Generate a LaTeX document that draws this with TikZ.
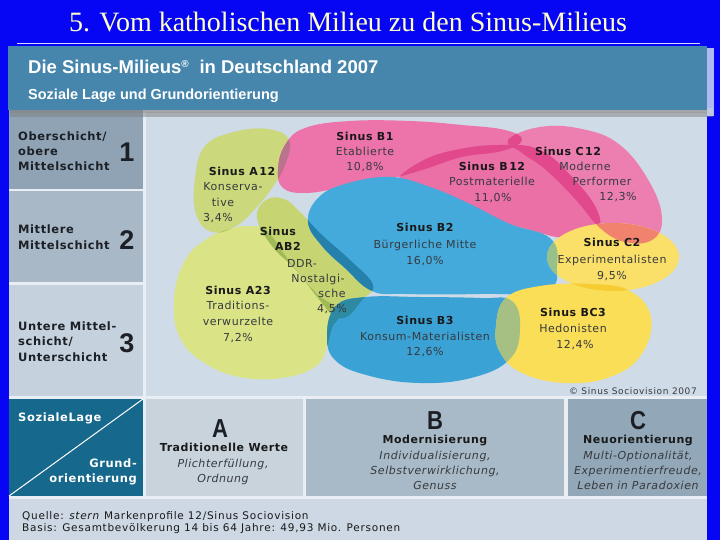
\documentclass[tikz,border=0pt]{standalone}
\usepackage{fontspec}
\setmainfont{DejaVu Sans}
\newfontfamily\chfont{DejaVu Sans}[LetterSpace=5,ItalicFont=DejaVu Sans Oblique,BoldFont=DejaVu Sans Bold,BoldItalicFont=DejaVu Sans Bold Oblique]
\newfontfamily\sidefont{DejaVu Sans}[LetterSpace=5,BoldFont=DejaVu Sans Bold]
\newfontfamily\footfont{DejaVu Sans}[LetterSpace=7,ItalicFont=DejaVu Sans Oblique]
\newfontfamily\titlefont{Liberation Serif}
\newfontfamily\headfont{Liberation Sans}
\definecolor{bgblue}{RGB}{6,6,245}
\definecolor{titleyel}{RGB}{255,255,200}
\definecolor{headblue}{RGB}{70,134,172}
\definecolor{panelwhite}{RGB}{232,238,243}
\definecolor{chartbg}{RGB}{207,219,230}
\definecolor{cellone}{RGB}{143,163,180}
\definecolor{celltwo}{RGB}{168,184,198}
\definecolor{cellthree}{RGB}{197,209,220}
\definecolor{tealcell}{RGB}{22,104,140}
\definecolor{cellA}{RGB}{200,211,220}
\definecolor{cellB}{RGB}{168,186,199}
\definecolor{cellC}{RGB}{146,167,183}
\definecolor{footbg}{RGB}{205,216,228}
\definecolor{pinkone}{RGB}{236,116,170}
\definecolor{pinktwo}{RGB}{234,112,166}
\definecolor{pinkthree}{RGB}{237,126,176}
\definecolor{blueone}{RGB}{68,170,220}
\definecolor{bluetwo}{RGB}{58,162,213}
\definecolor{yelone}{RGB}{250,224,105}
\definecolor{yeltwo}{RGB}{250,222,88}
\definecolor{greenone}{RGB}{203,216,124}
\definecolor{greentwo}{RGB}{198,212,114}
\definecolor{greenthree}{RGB}{218,228,135}
\definecolor{lensAB}{RGB}{185,115,140}
\definecolor{lensGG}{RGB}{172,192,95}
\definecolor{lensGD}{RGB}{160,186,88}
\definecolor{lensGB}{RGB}{38,128,172}
\definecolor{lensGT}{RGB}{45,138,162}
\definecolor{lensPP}{RGB}{226,72,140}
\definecolor{lensYP}{RGB}{240,130,110}
\definecolor{lensYB}{RGB}{150,192,140}
\definecolor{lensYY}{RGB}{246,204,50}
\definecolor{lensYT}{RGB}{165,192,130}
\definecolor{txtdark}{RGB}{25,25,25}
\definecolor{txtmid}{RGB}{55,58,62}
\definecolor{sidetext}{RGB}{28,32,38}
\def\blobAa{plot[smooth cycle, tension=0.7] coordinates {(195,178) (205,146) (234,132) (268,129) (289,140) (285,165) (272,188) (256,208) (236,226) (212,232) (196,214)}}
\def\blobAb{plot[smooth cycle, tension=0.7] coordinates {(174,300) (184,262) (205,240) (230,229) (252,226) (268,232) (290,262) (316,293) (340,311) (332,328) (326,350) (316,366) (288,377) (245,378) (206,364) (180,338)}}
\def\blobAB{plot[smooth cycle, tension=0.7] coordinates {(257,218) (266,200) (284,199) (300,212) (322,235) (350,260) (373,285) (362,300) (348,316) (334,316) (318,298) (296,270) (272,246)}}
\def\blobBa{plot[smooth cycle, tension=0.7] coordinates {(278,170) (285,145) (305,128) (350,121) (410,121) (462,125) (505,130) (522,140) (502,151) (462,157) (422,170) (385,180) (340,188) (305,193) (283,188)}}
\def\blobBb{plot[smooth cycle, tension=0.7] coordinates {(398,182) (420,162) (455,150) (500,145) (540,150) (573,178) (597,210) (596,231) (566,238) (530,230) (500,221) (465,205) (430,190)}}
\def\blobCa{plot[smooth cycle, tension=0.7] coordinates {(508,140) (540,127) (582,129) (620,145) (650,183) (662,219) (652,240) (625,242) (600,228) (576,200) (546,170) (522,153)}}
\def\blobBc{plot[smooth cycle, tension=0.7] coordinates {(308,222) (318,198) (345,184) (390,177) (430,187) (470,204) (510,224) (550,238) (557,265) (546,291) (480,294) (405,294) (372,291) (345,268) (322,246)}}
\def\blobBd{plot[smooth cycle, tension=0.7] coordinates {(327,336) (336,306) (366,297) (420,297) (480,298) (512,301) (520,330) (509,360) (471,378) (420,383) (370,376) (336,361)}}
\def\blobCb{(613,257) ellipse [x radius=66, y radius=34]}
\def\blobCc{plot[smooth cycle, tension=0.7] coordinates {(496,326) (506,298) (540,286) (590,284) (630,291) (651,318) (641,355) (610,377) (565,383) (522,373) (500,352)}}
\begin{document}
\begin{tikzpicture}[x=1pt,y=-1pt,
  nm/.style={font=\chfont\bfseries\fontsize{11}{13}\selectfont, text=txtdark, inner sep=0pt, text height=8pt, text depth=0pt},
  ds/.style={font=\chfont\fontsize{11}{13}\selectfont, text=txtmid, inner sep=0pt, text height=8pt, text depth=0pt},
  it/.style={font=\chfont\itshape\fontsize{11}{13}\selectfont, text=txtmid, inner sep=0pt, text height=8pt, text depth=0pt},
  side/.style={font=\sidefont\bfseries\fontsize{11.5}{14}\selectfont, text=sidetext, inner sep=0pt, anchor=west, text height=8.5pt, text depth=0pt},
  num/.style={font=\headfont\bfseries\fontsize{27}{27}\selectfont, text=sidetext, inner sep=0pt},
  bigl/.style={font=\headfont\bfseries\fontsize{26}{26}\selectfont, text=sidetext, inner sep=0pt},
  wlbl/.style={font=\sidefont\bfseries\fontsize{11.5}{13}\selectfont, text=white, inner sep=0pt, text height=8pt, text depth=0pt},
  foot/.style={font=\footfont\fontsize{10.5}{12}\selectfont, text=txtdark, inner sep=0pt, anchor=base west}
]
\useasboundingbox (0,0) rectangle (720,540);
% background
\fill[bgblue] (0,0) rectangle (720,540);
\node[font=\titlefont\fontsize{28}{30}\selectfont, text=titleyel, anchor=base, inner sep=0pt] (title) at (348,32) {5. Vom katholischen Milieu zu den Sinus-Milieus};
\draw[white!85!blue, line width=0.9pt] (17,43.5) -- (700,43.5);
% panel
\fill[panelwhite] (9,108) rectangle (707,540);
\fill[chartbg] (146,112) rectangle (707,396);
\fill[cellone] (9,108) rectangle (143,189);
\fill[celltwo] (9,191.5) rectangle (143,282);
\fill[cellthree] (9,284.5) rectangle (143,396);
\fill[tealcell] (9,399) rectangle (143,496);
\fill[cellA] (146,399) rectangle (303,496);
\fill[cellB] (306,399) rectangle (564,496);
\fill[cellC] (567.5,399) rectangle (707,496);
\fill[footbg] (9,499) rectangle (707,540);
% header
\fill[black!50, opacity=0.5] (10,108) rectangle (713,117);
\fill[black!50, opacity=0.3] (10,108) rectangle (713,113);
\fill[white!80!headblue, opacity=0.8] (707,48) rectangle (714,116);
\fill[headblue] (8,46) rectangle (707,110);
\node[font=\headfont\bfseries\fontsize{18.5}{20}\selectfont, text=white, anchor=base west, inner sep=0pt] (head) at (28,74) {Die Sinus-Milieus\textsuperscript{\fontsize{10}{10}\selectfont ®}\ \ in Deutschland 2007};
\node[font=\headfont\bfseries\fontsize{14.5}{16}\selectfont, text=white, anchor=base west, inner sep=0pt] (sub) at (28,100) {Soziale Lage und Grundorientierung};
% blobs
\fill[greenthree] \blobAb;
\fill[greenone] \blobAa;
\fill[greentwo] \blobAB;
\fill[pinkone] \blobBa;
\fill[pinktwo] \blobBb;
\fill[pinkthree] \blobCa;
\begin{scope}\clip \blobAa; \fill[lensGG] \blobAb; \end{scope}
\begin{scope}\clip \blobAB; \fill[lensGD] \blobAb; \end{scope}
\begin{scope}\clip \blobAB; \fill[lensGD] \blobAa; \end{scope}
\begin{scope}\clip \blobAa; \fill[lensAB] \blobBa; \end{scope}
\begin{scope}\clip \blobBa; \fill[lensPP] \blobBb; \end{scope}
\begin{scope}\clip \blobBb; \fill[lensPP] \blobCa; \end{scope}
\begin{scope}\clip \blobBa; \fill[lensPP] \blobCa; \end{scope}
\fill[blueone] \blobBc;
\fill[bluetwo] \blobBd;
\fill[yelone] \blobCb;
\fill[yeltwo] \blobCc;
\begin{scope}\clip \blobAB; \fill[lensGB] \blobBc; \end{scope}
\begin{scope}\clip \blobAb; \fill[lensGT] \blobBd; \end{scope}
\begin{scope}\clip \blobAB; \fill[lensGT] \blobBd; \end{scope}
\begin{scope}\clip \blobCb; \fill[lensYP] \blobCa; \end{scope}
\begin{scope}\clip \blobCb; \fill[lensYB] \blobBc; \end{scope}
\begin{scope}\clip \blobCb; \fill[lensYY] \blobCc; \end{scope}
\begin{scope}\clip \blobBd; \fill[lensYT] \blobCc; \end{scope}
% left column
\node[side] (o1) at (18,136) {Oberschicht/};
\node[side] (o2) at (18,151) {obere};
\node[side] (o3) at (18,166) {Mittelschicht};
\node[num] (n1) at (127,152) {1};
\node[side] (m1) at (18,229) {Mittlere};
\node[side] (m2) at (18,245) {Mittelschicht};
\node[num] (n2) at (127,240) {2};
\node[side] (u1) at (18,326) {Untere Mittel-};
\node[side] (u2) at (18,341) {schicht/};
\node[side] (u3) at (18,357) {Unterschicht};
\node[num] (n3) at (127,343) {3};
% blob labels
\node[nm] (b1a) at (365,137) {Sinus B1};
\node[ds] (b1b) at (365,152) {Etablierte};
\node[ds] (b1c) at (365,167) {10,8\%};
\node[nm] (b12a) at (492,167) {Sinus B\kern1.5pt12};
\node[ds] (b12b) at (492,182) {Postmaterielle};
\node[ds] (b12c) at (493,198) {11,0\%};
\node[nm] (c12a) at (568,152) {Sinus C\kern1.5pt12};
\node[ds] (c12b) at (585,167) {Moderne};
\node[ds] (c12c) at (602,182) {Performer};
\node[ds] (c12d) at (618,197) {12,3\%};
\node[nm] (a12a) at (242,172) {Sinus A\kern1.5pt12};
\node[ds] (a12b) at (233,187) {Konserva-};
\node[ds] (a12c) at (223,203) {tive};
\node[ds] (a12d) at (218,218) {3,4\%};
\node[nm] (ab2a) at (278,232) {Sinus};
\node[nm] (ab2b) at (288,247) {AB2};
\node[ds] (ab2c) at (302,263) {DDR-};
\node[ds] (ab2d) at (318,278) {Nostalgi-};
\node[ds] (ab2e) at (332,293) {sche};
\node[ds] (ab2f) at (332,308) {4,5\%};
\node[nm] (b2a) at (425,228) {Sinus B2};
\node[ds] (b2b) at (425,244) {Bürgerliche Mitte};
\node[ds] (b2c) at (425,260) {16,0\%};
\node[nm] (a23a) at (238,290) {Sinus A23};
\node[ds] (a23b) at (238,305) {Traditions-};
\node[ds] (a23c) at (238,321) {verwurzelte};
\node[ds] (a23d) at (238,337) {7,2\%};
\node[nm] (b3a) at (425,320) {Sinus B3};
\node[ds] (b3b) at (425,336) {Konsum-Materialisten};
\node[ds] (b3c) at (425,351) {12,6\%};
\node[nm] (c2a) at (612,243) {Sinus C2};
\node[ds] (c2b) at (612,259) {Experimentalisten};
\node[ds] (c2c) at (612,275) {9,5\%};
\node[nm] (bc3a) at (573,312) {Sinus BC3};
\node[ds] (bc3b) at (573,328) {Hedonisten};
\node[ds] (bc3c) at (575,344) {12,4\%};
\node[font=\footfont\fontsize{9}{10}\selectfont, text=txtmid, anchor=east, inner sep=0pt] (copy) at (697,391) {© Sinus Sociovision 2007};
% bottom row
\coordinate (dl) at (9,496);
\coordinate (dr) at (143,399);
\draw[white, line width=1pt] (dl) -- (dr);
\node[wlbl, anchor=west] (sl) at (18,417) {SozialeLage};
\node[wlbl, anchor=east] (g1) at (137,463) {Grund-};
\node[wlbl, anchor=east] (g2) at (137,478) {orientierung};
\node[bigl] (la) at (220,429) {\scalebox{0.85}[1]{A}};
\node[nm] (a1) at (224,447) {Traditionelle Werte};
\node[it] (a2) at (223,463) {Plichterfüllung,};
\node[it] (a3) at (223,478) {Ordnung};
\node[bigl] (lb) at (435,421) {\scalebox{0.85}[1]{B}};
\node[nm] (bb1) at (435,439) {Modernisierung};
\node[it] (bb2) at (435,455) {Individualisierung,};
\node[it] (bb3) at (435,470) {Selbstverwirklichung,};
\node[it] (bb4) at (435,485) {Genuss};
\node[bigl] (lc) at (638,421) {\scalebox{0.85}[1]{C}};
\node[nm] (cc1) at (638,439) {Neuorientierung};
\node[it] (cc2) at (638,455) {Multi-Optionalität,};
\node[it] (cc3) at (638,470) {Experimentierfreude,};
\node[it] (cc4) at (638,485) {Leben in Paradoxien};
% footer
\node[foot] (q) at (22,519) {Quelle: \textit{stern} Markenprofile 12/Sinus Sociovision};
\node[foot] (bs) at (22,531) {Basis: Gesamtbevölkerung 14 bis 64 Jahre: 49,93 Mio. Personen};
\end{tikzpicture}
\end{document}
